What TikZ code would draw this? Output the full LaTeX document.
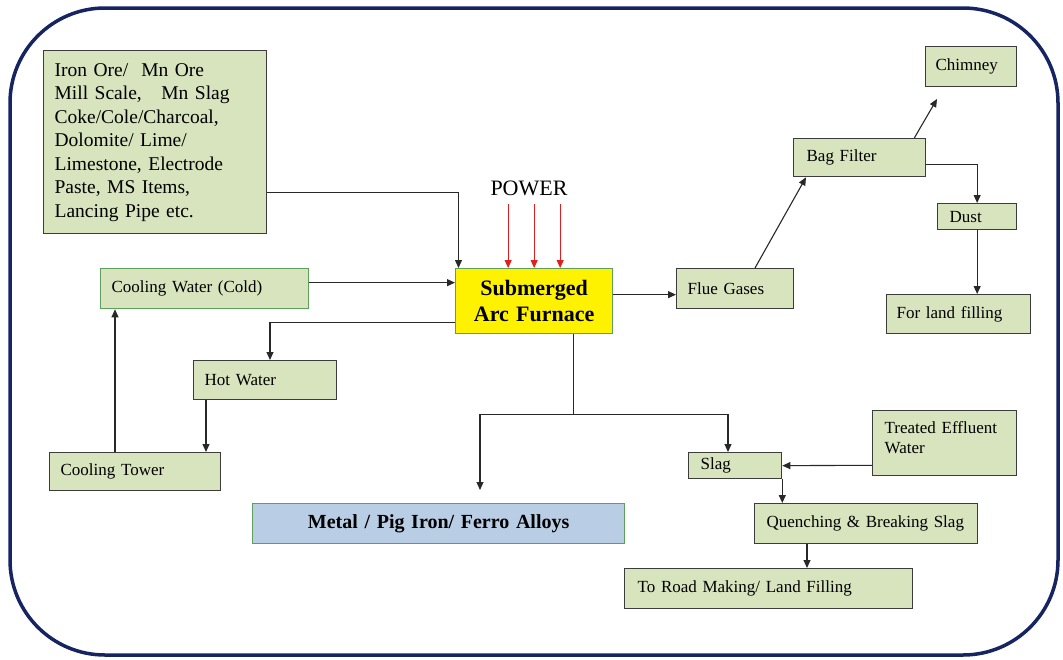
\documentclass[tikz,border=0pt]{standalone}
\usepackage{fontspec}
\setmainfont{Liberation Serif}
\usepackage{tikz}
\usetikzlibrary{calc,arrows.meta}
\tikzset{>={Stealth[length=8pt, width=7pt, inset=0pt]}}

\definecolor{frame}{RGB}{22,36,98}
\definecolor{boxfill}{RGB}{215,228,189}
\definecolor{boxline}{RGB}{60,60,60}
\definecolor{greenline}{RGB}{92,160,92}
\definecolor{metalfill}{RGB}{185,205,229}
\definecolor{flowline}{RGB}{40,40,40}
\definecolor{powerred}{RGB}{225,30,30}

\tikzset{
  box/.style={draw=boxline, fill=boxfill, line width=1.3pt, inner xsep=11pt, inner ysep=0pt,
    align=left, anchor=north west, font=\fontsize{17}{21}\selectfont},
  flow/.style={->, draw=flowline, line width=1.1pt},
  power/.style={->, draw=powerred, line width=0.9pt}
}

\begin{document}
\begin{tikzpicture}[x=1pt, y=-1pt]
    \useasboundingbox (0,0) rectangle (1063,659);
    \draw[color=frame, line width=3.5pt, rounded corners=95pt] (10,8) rectangle (1058,655);

    % raw materials and furnace
    \node[box, text width=201pt, minimum height=183pt, font=\fontsize{19.5}{23.5}\selectfont] (mix) at (43,50)
        {Iron Ore/\ \ Mn Ore\\Mill Scale,\ \ \ Mn Slag\\Coke/Cole/Charcoal,\\Dolomite/ Lime/\\Limestone, Electrode\\Paste, MS Items,\\Lancing Pipe etc.};
    \node[box, fill=yellow, draw=greenline, text width=135pt, minimum height=65pt, align=center,
        font=\fontsize{22}{26}\selectfont\bfseries] (sa) at (455,268) {Submerged\\Arc Furnace};
    \node[font=\fontsize{22}{26}\selectfont] (pw) at (529,188) {POWER};

    % cooling water loop
    \node[box, draw=greenline, text width=186pt, minimum height=40pt] (cw) at (100,268) {Cooling Water (Cold)};
    \node[box, text width=121pt, minimum height=39pt] (hot) at (193,360) {Hot Water};
    \node[box, text width=149pt, minimum height=38pt] (ct) at (49,452) {Cooling Tower};

    % products
    \node[box, fill=metalfill, draw=greenline, text width=350pt, minimum height=40pt, align=center,
        font=\fontsize{20}{24}\selectfont\bfseries] (metal) at (252,503) {Metal / Pig Iron/ Ferro Alloys};
    \node[box, inner xsep=12pt, text width=69pt, minimum height=26pt] (slag) at (688,452) {Slag};
    \node[box, inner xsep=12pt, text width=120pt, minimum height=65pt, font=\fontsize{17}{20}\selectfont] (tew) at (872,410)
        {Treated Effluent\\Water\\[-8pt]\mbox{}};
    \node[box, inner xsep=6pt, text width=211pt, minimum height=40pt] (qb) at (754,503) {\hspace{6pt}Quenching \& Breaking Slag};
    \node[box, inner xsep=13pt, text width=262pt, minimum height=40pt] (road) at (624,568) {To Road Making/ Land Filling};

    % gas line
    \node[box, text width=95pt, minimum height=40pt] (fg) at (676,268) {Flue Gases};
    \node[box, inner xsep=13pt, text width=106pt, minimum height=38pt] (bf) at (793,138) {Bag Filter};
    \node[box, inner xsep=10pt, text width=71pt, minimum height=40pt] (chim) at (925,46) {Chimney};
    \node[box, inner xsep=12pt, text width=55pt, minimum height=26pt] (dust) at (937,203) {Dust};
    \node[box, inner xsep=10pt, text width=124pt, minimum height=39pt] (fl) at (886,294) {For land filling};

    \coordinate (split) at ($(sa.south east)+(-40,80)$);
    \coordinate (metalend) at (480,490);
    \coordinate (chimin) at (937,99);

    % power
    \foreach \dx in {-26,0,26}
        \draw[power] ($(sa.north)+(\dx,-64)$) -- ($(sa.north)+(\dx,0)$);

    \draw[flow] ($(mix.south east)+(0,-42)$) -| ($(sa.north west)+(3.5,0)$);
    \draw[flow] ($(cw.east)+(0,-6)$) -- ($(sa.west |- cw.east)+(0,-6)$);
    \draw[flow] ($(sa.south west)+(0,-12)$) -| ($(hot.north west)+(77,0)$);
    \draw[flow] ($(hot.south west)+(13,0)$) -- ($(ct.north west)+(157,0)$);
    \draw[flow] ($(ct.north west)+(66,0)$) -- ($(cw.south west)+(15,0)$);

    \draw[flowline, line width=1.1pt] ($(sa.south east)+(-40,0)$) -- (split);
    \draw[flow] (split) -| ($(slag.north west)+(40,0)$);
    \draw[flow] (split) -| (metalend);
    \draw[flow] ($(tew.south west)+(0,-11)$) -- (slag.east);
    \draw[flow] (slag.south east) -- (slag.south east |- qb.north);
    \draw[flow] ($(qb.south west)+(53,0)$) -- ($(road.north west)+(183,0)$);

    \draw[flow] ($(sa.east)+(0,-6.5)$) -- ($(fg.west)+(0,6)$);
    \draw[flow] ($(fg.north west)+(79,0)$) -- ($(bf.south west)+(13,0)$);
    \draw[flow] ($(bf.north east)+(-12,0)$) -- (chimin);
    \draw[flow] ($(bf.east)+(0,7)$) -| (dust.north);
    \draw[flow] (dust.south) -- (dust.south |- fl.north);
\end{tikzpicture}
\end{document}
